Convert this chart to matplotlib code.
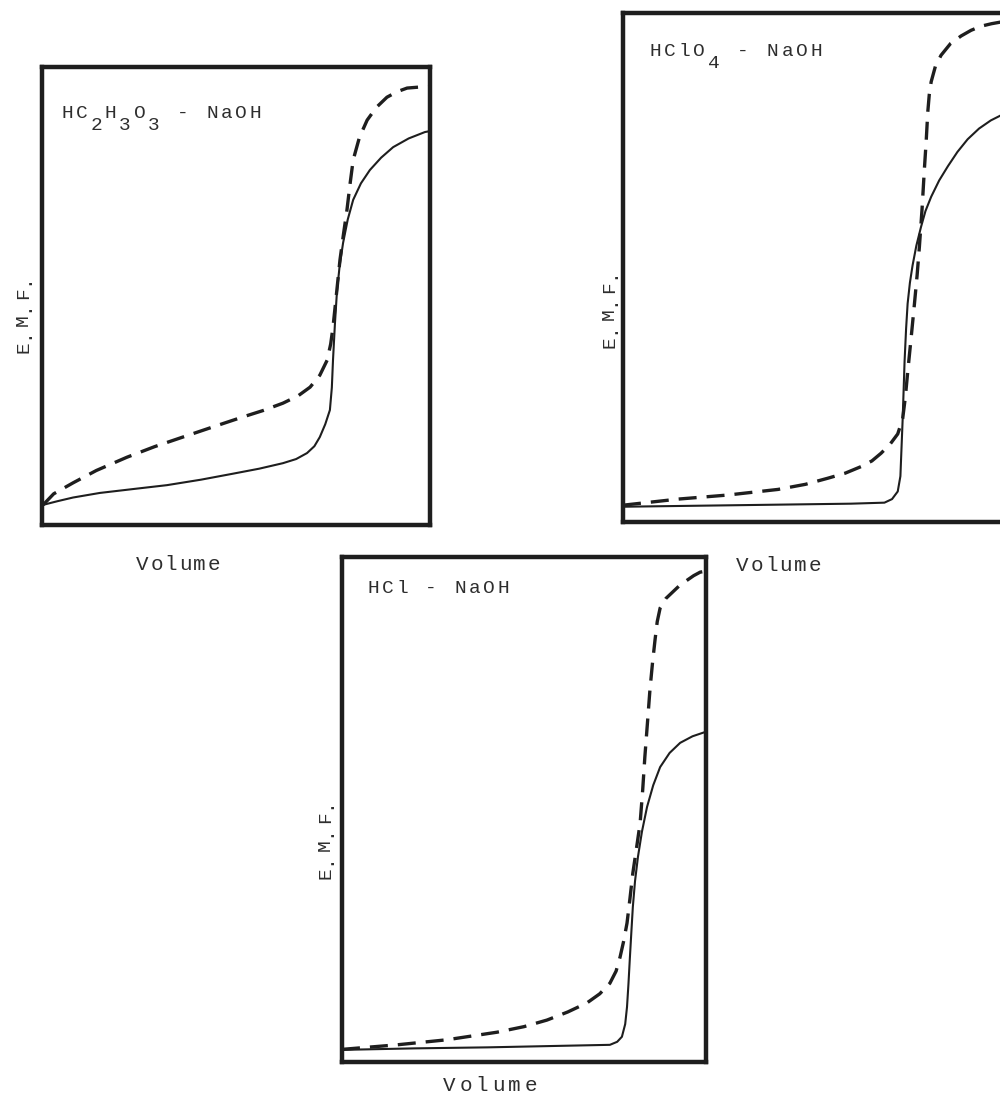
import matplotlib
matplotlib.use("Agg")
import matplotlib.pyplot as plt

# --- data (volume %, e.m.f. % of panel height) ---
acetic_vol_solid = [0.3, 4, 8, 14.9, 24, 32.2, 41, 49.2, 56, 62.1, 65.5, 68.3, 70.2, 71.6, 73, 74.2,
                    74.7, 75.0, 75.5, 76.0, 76.7, 77.6, 78.8, 80.2, 82.2, 84.5, 87.4, 90.5, 94.5, 98.7, 100]
acetic_emf_solid = [4.4, 5.2, 6.0, 7.0, 7.9, 8.7, 9.9, 11.2, 12.3, 13.5, 14.4, 15.7, 17.2, 19.2, 22, 25.1,
                    30, 36.0, 44, 50.7, 56.5, 61.6, 66.7, 71.0, 74.6, 77.5, 80.2, 82.5, 84.4, 85.8, 86]
acetic_vol_dash = [0.3, 3, 8, 14, 21.9, 29, 36.3, 44, 51.8, 57, 62.1, 66, 69.1, 71.6, 73.5, 74.4, 75.0,
                   75.9, 76.8, 77.7, 78.6, 79.4, 80.2, 81.8, 83.8, 86.2, 88.9, 91.5, 94.1, 97, 100]
acetic_emf_dash = [4.4, 6.8, 9.2, 11.9, 14.8, 17.1, 19.2, 21.4, 23.6, 25.0, 26.6, 28.2, 30.1, 32.7, 36.0,
                   39.5, 43.2, 50.5, 57.9, 63.5, 68.8, 74.5, 79.7, 84.6, 88.4, 91.2, 93.4, 94.6, 95.4, 95.6, 95.7]

perchloric_vol_solid = [0, 30, 60, 68.8, 70.8, 72.3, 73.0, 73.2, 73.6, 74.1, 74.5, 74.9, 75.5, 76.2, 77.2,
                        78.4, 79.6, 81.1, 83.2, 85.5, 88, 90.7, 93.7, 96.8, 100]
perchloric_emf_solid = [3.0, 3.3, 3.6, 3.8, 4.5, 6.0, 9, 12.8, 20.3, 31.6, 38, 42.9, 47, 50.4, 54.3,
                        57.9, 61.1, 63.9, 67.1, 69.9, 72.7, 75.2, 77.3, 78.9, 80.1]
perchloric_vol_dash = [0, 14.5, 27.6, 40.8, 48, 53.9, 58.5, 62.7, 65.5, 67.9, 70.3, 72.3, 73.6, 74.3, 74.9,
                       75.8, 76.7, 77.4, 78.0, 78.7, 79.3, 79.8, 80.2, 80.6, 81.1, 82.2, 83.7, 86.2, 89.0,
                       91.6, 94.2, 97, 100]
perchloric_emf_dash = [3.3, 4.5, 5.3, 6.4, 7.4, 8.6, 9.6, 10.9, 12.0, 13.5, 15.3, 17.3, 20.3, 24.5, 29.3,
                       36, 42.9, 48.5, 54.1, 61.5, 69.2, 75, 80.5, 84, 86.5, 89.5, 91.7, 94.0, 95.5,
                       96.6, 97.4, 97.9, 98.3]

hcl_vol_solid = [0, 20, 40, 60, 73.6, 75.6, 76.9, 77.8, 78.3, 78.7, 79.1, 79.5, 79.9, 80.5, 81.3, 82.4,
                 83.8, 85.5, 87.4, 90, 92.9, 96.3, 100]
hcl_emf_solid = [2.4, 2.7, 2.9, 3.2, 3.4, 4.0, 5.0, 7.5, 10.9, 15.5, 20.8, 25.8, 30.7, 35.8, 40.6, 45.6,
                 50.5, 54.8, 58.4, 61.2, 63.2, 64.5, 65.4]
hcl_vol_dash = [0, 15.1, 28.8, 42.6, 50, 56.3, 62, 67.3, 70.8, 73.6, 75.3, 76.4, 77.4, 78.3, 79.1, 79.9,
                80.9, 81.9, 82.6, 83.2, 83.9, 84.6, 85.3, 86.0, 86.6, 87.4, 89, 90.9, 92.8, 94.8,
                96.6, 98.4, 100]
hcl_emf_dash = [2.5, 3.4, 4.4, 5.9, 7.0, 8.3, 9.9, 11.7, 13.5, 15.6, 18.0, 20.8, 24, 27.5, 32.3, 37.4,
                42.3, 47.3, 53.8, 60.4, 67, 73.7, 79, 83.6, 87.2, 89.9, 91.8, 93.1, 94.4, 95.4,
                96.3, 97.0, 97.2]

W, H = 1000, 1093
INK = "#1e1e1e"
TXT = "#2e2e2e"
FONT = "Liberation Mono"

fig = plt.figure(figsize=(W / 100, H / 100), dpi=100)
fig.patch.set_facecolor("white")


def box(left, top, right, bottom):
    return [left / W, 1 - bottom / H, (right - left) / W, (bottom - top) / H]


def chars(x0, y0, text, pitch, subs=(), sub_drop=12, rot=0, size=14):
    # typewriter style: one glyph per pitch, x0/y0 in pixels from top-left
    for i, ch in enumerate(text):
        if ch == " ":
            continue
        if rot:
            x, y = x0, y0 - i * pitch
        else:
            x, y = x0 + i * pitch, y0 + (sub_drop if i in subs else 0)
        fig.text(x / W, 1 - y / H, ch, fontsize=size, family=FONT, color=TXT,
                 ha="center", va="baseline", rotation=rot, rotation_mode="anchor")


def panel(rect, vs, es, vd, ed):
    ax = fig.add_axes(rect)
    ax.plot(vs, es, color=INK, lw=1.5, solid_joinstyle="round", solid_capstyle="round")
    line, = ax.plot(vd, ed, color=INK, lw=2.4)
    line.set_dashes((5.4, 3.0))
    ax.set_xlim(0, 100)
    ax.set_ylim(0, 100)
    ax.set_xticks([])
    ax.set_yticks([])
    for sp in ax.spines.values():
        sp.set_linewidth(3.2)
        sp.set_color(INK)
        sp.set_capstyle("projecting")
    return ax


panel(box(42, 67, 430, 525), acetic_vol_solid, acetic_emf_solid, acetic_vol_dash, acetic_emf_dash)
panel(box(623, 13, 1003, 522), perchloric_vol_solid, perchloric_emf_solid,
      perchloric_vol_dash, perchloric_emf_dash)
panel(box(342, 557, 706, 1062), hcl_vol_solid, hcl_emf_solid, hcl_vol_dash, hcl_emf_dash)

# panel titles
chars(67, 118, "HC2H3O3 - NaOH", 14.5, subs=(2, 4, 6))
chars(655, 56, "HClO4 - NaOH", 14.7, subs=(4,))
chars(373, 593, "HCl - NaOH", 14.5)

# axis labels
chars(28, 347, "E.M.F.", 13.5, rot=90)
chars(614, 342, "E.M.F.", 13.8, rot=90)
chars(330, 873, "E.M.F.", 14, rot=90)

chars(142, 570, "Volume", 14.4, size=15)
chars(742, 571, "Volume", 14.6, size=15)
chars(449, 1091, "Volume", 16.4, size=15)

fig.savefig("out.png", dpi=100, facecolor="white")
